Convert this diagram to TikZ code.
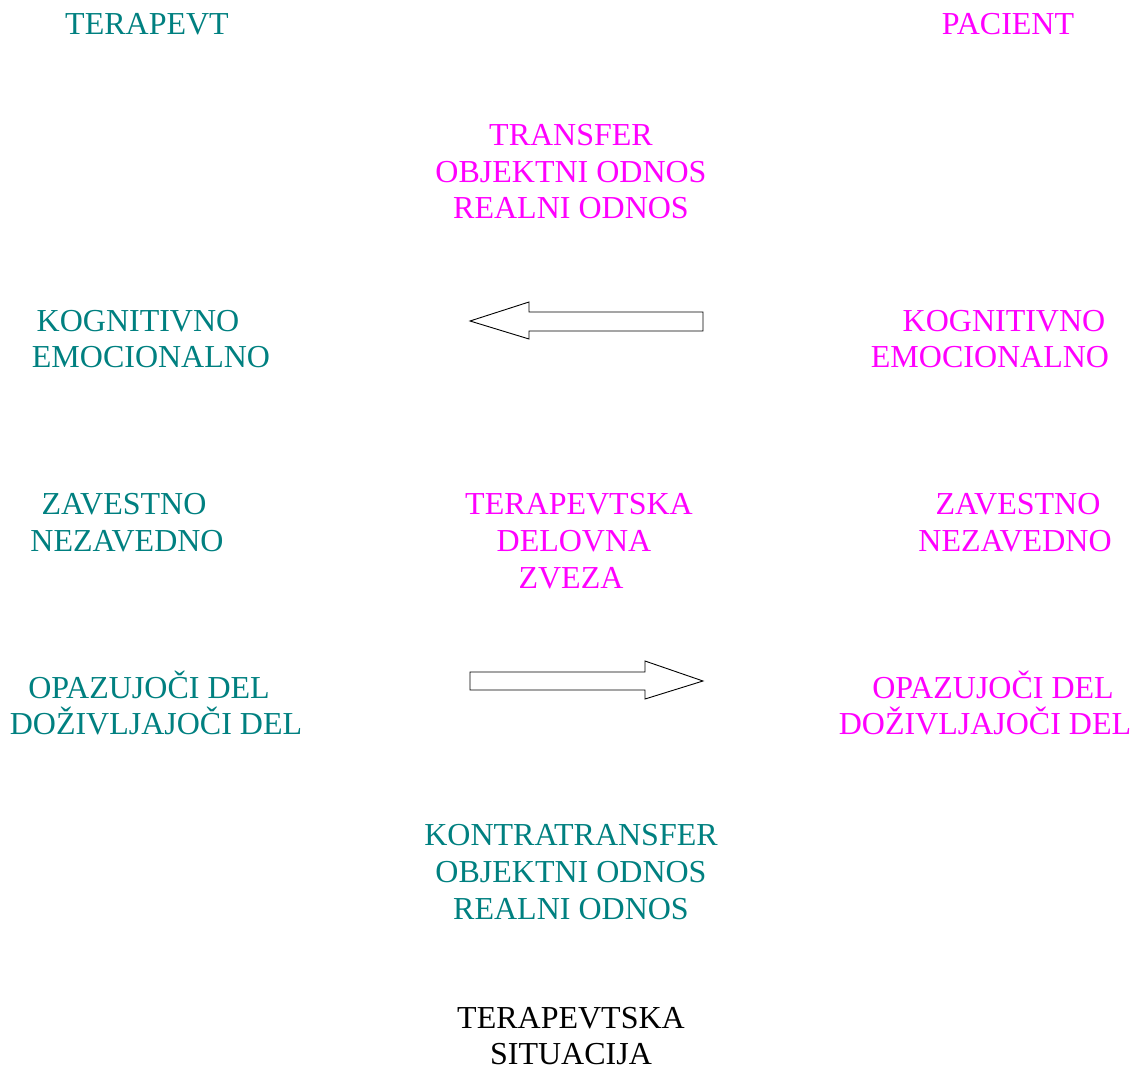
\documentclass[tikz,border=0pt]{standalone}
\usepackage{fontspec}
\setmainfont{Liberation Serif}
\definecolor{tealc}{RGB}{0,128,128}
\definecolor{magc}{RGB}{255,0,255}
\begin{document}
\begin{tikzpicture}[x=1pt,y=-1pt,
  lbl/.style={inner sep=0pt,anchor=base,font=\fontsize{32}{36.5}\selectfont},
  ter/.style={lbl,text=tealc},
  pac/.style={lbl,text=magc},
  blk/.style={lbl,text=black},
  blockarrow/.style={draw=black,line width=0.9pt,fill=white,line join=miter}]
\useasboundingbox (0,0) rectangle (1137,1067);
% headers
\node[ter] (terapevt) at (147,35) {TERAPEVT};
\node[pac] (pacient) at (1008,35) {PACIENT};
% transfer block
\node[pac] (tr1) at (571,146) {TRANSFER};
\node[pac] (tr2) at (571,182.5) {OBJEKTNI ODNOS};
\node[pac] (tr3) at (571,219) {REALNI ODNOS};
% kognitivno
\node[ter] (kl1) at (138,331) {KOGNITIVNO};
\node[ter] (kl2) at (151,367) {EMOCIONALNO};
\node[pac] (kr1) at (1004,331) {KOGNITIVNO};
\node[pac] (kr2) at (990,367) {EMOCIONALNO};
% zavestno
\node[ter] (zl1) at (124,514) {ZAVESTNO};
\node[ter] (zl2) at (127,551) {NEZAVEDNO};
\node[pac] (zr1) at (1018,514) {ZAVESTNO};
\node[pac] (zr2) at (1015,551) {NEZAVEDNO};
% middle
\node[pac] (dz1) at (579,514) {TERAPEVTSKA};
\node[pac] (dz2) at (574,551) {DELOVNA};
\node[pac] (dz3) at (571,588) {ZVEZA};
% opazujoci
\node[ter] (ol1) at (149,698) {OPAZUJOČI DEL};
\node[ter] (ol2) at (156,734) {DOŽIVLJAJOČI DEL};
\node[pac] (or1) at (993,698) {OPAZUJOČI DEL};
\node[pac] (or2) at (985,734) {DOŽIVLJAJOČI DEL};
% kontratransfer
\node[ter] (kt1) at (571,845) {KONTRATRANSFER};
\node[ter] (kt2) at (571,882) {OBJEKTNI ODNOS};
\node[ter] (kt3) at (571,919) {REALNI ODNOS};
% situation
\node[blk] (ts1) at (571,1028) {TERAPEVTSKA};
\node[blk] (ts2) at (571,1064) {SITUACIJA};
% block arrows
\draw[blockarrow] (703,312) -- (529,312) -- (529,302) -- (470,321) -- (529,339) -- (529,331) -- (703,331) -- cycle;
\draw[blockarrow] (470,672) -- (645,672) -- (645,661) -- (703,681) -- (645,699) -- (645,690) -- (470,690) -- cycle;
\end{tikzpicture}
\end{document}
